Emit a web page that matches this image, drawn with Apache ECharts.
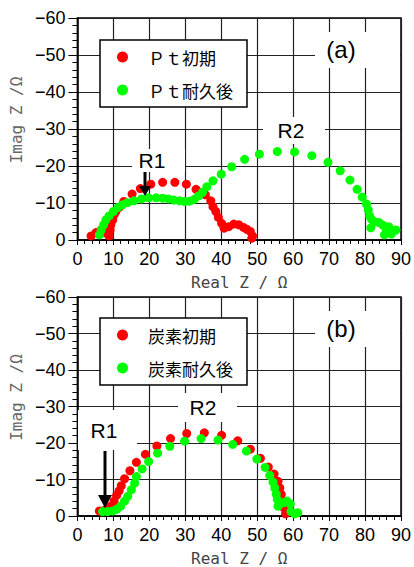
<!DOCTYPE html>
<html>
<head>
<meta charset="utf-8">
<script src="https://cdn.jsdelivr.net/npm/echarts@6/dist/echarts.min.js"></script>
<style>
html,body{margin:0;padding:0;background:#fff;}
#chart{width:414px;height:567px;}
</style>
</head>
<body>
<div id="chart"></div>
<script>
// ---- data (x = Real Z / Ω, y = Imag Z / Ω) ----
const ptInitial = [
  [3.8,-1.1],[5.2,-2.0],[6.6,-2.7],[7.9,-1.9],[8.8,-1.1],[9.1,-2.7],[9.3,-4.1],[9.8,-5.4],
  [10.2,-6.8],[10.7,-7.7],[11.6,-8.8],[12.9,-10.4],[15.2,-12.4],[17.5,-13.9],[20.4,-15.1],
  [23.7,-15.6],[27.1,-15.6],[30.3,-15.1],[33.0,-13.7],[35.6,-12.2],[37.1,-10.6],[37.7,-9.0],
  [38.5,-7.7],[39.2,-6.1],[40.1,-4.5],[40.8,-3.2],[42.1,-3.6],[43.5,-4.3],[44.9,-4.1],
  [46.2,-3.4],[47.1,-2.9],[48.1,-2.3],[48.7,-1.1],[48.5,-0.5]
];
const ptAged = [
  [6.1,-1.4],[6.6,-2.7],[7.3,-4.1],[7.9,-5.4],[8.8,-6.5],[10.0,-7.7],[11.3,-8.8],[12.5,-9.5],
  [13.9,-10.1],[15.7,-10.6],[17.8,-11.1],[19.8,-11.4],[21.9,-11.4],[23.7,-11.3],[25.3,-11.1],
  [26.8,-10.8],[28.4,-10.6],[29.8,-10.4],[31.2,-10.5],[32.5,-11.0],[33.7,-11.9],[34.8,-12.9],
  [36.0,-14.4],[37.7,-16.0],[40.0,-17.8],[42.9,-19.8],[46.5,-21.8],[50.6,-23.2],[55.6,-23.9],
  [60.4,-23.8],[65.2,-22.8],[69.7,-21.0],[73.1,-18.7],[75.8,-16.2],[77.8,-13.7],[79.2,-11.6],
  [80.4,-9.7],[80.9,-8.1],[81.3,-6.5],[81.8,-5.6],[81.6,-3.3],[82.7,-4.9],[83.9,-4.7],
  [85.0,-4.0],[85.9,-2.7],[85.4,-1.4],[86.6,-3.6],[87.3,-1.6],[88.6,-2.7]
];
const carbonInitial = [
  [6.1,-1.4],[7.3,-1.5],[8.4,-1.8],[9.3,-2.7],[10.2,-4.1],[10.9,-5.7],[11.6,-6.9],[12.2,-8.3],
  [13.1,-10.2],[14.6,-12.4],[16.4,-14.7],[18.9,-16.9],[22.1,-19.2],[25.9,-21.2],[30.4,-22.6],
  [35.3,-22.8],[40.1,-22.1],[44.6,-20.6],[48.1,-18.3],[50.9,-15.8],[53.1,-13.4],[54.7,-11.5],
  [55.8,-9.5],[56.3,-7.7],[56.7,-5.9],[57.2,-4.1],[57.5,-2.2],[57.9,-0.6],[58.5,-1.2]
];
const carbonAged = [
  [7.0,-1.2],[8.4,-1.2],[9.8,-1.4],[10.9,-1.8],[12.0,-2.7],[13.1,-4.1],[14.0,-5.4],[15.0,-7.2],
  [15.9,-9.0],[16.4,-10.8],[18.0,-12.9],[19.8,-14.9],[22.3,-17.2],[25.7,-19.1],[29.8,-20.5],
  [34.4,-21.2],[39.1,-20.8],[43.2,-19.6],[47.0,-17.8],[49.9,-15.6],[52.2,-13.3],[53.5,-11.1],
  [54.4,-9.3],[54.9,-7.7],[55.3,-6.0],[55.6,-4.5],[55.8,-2.7],[57.2,-3.6],[58.3,-4.1],
  [59.2,-3.3],[59.4,-1.2],[60.4,-0.6],[61.3,-0.9]
];
const legendTop = ['Ｐｔ初期','Ｐｔ耐久後'];
const legendBottom = ['炭素初期','炭素耐久後'];
const panelLabels = ['(a)','(b)'];
const xRange = [0, 90, 10];
const yRange = [-60, 0, 10];
const xName = 'Real Z / Ω';
const yName = 'Imag Z /Ω';

const RED = '#ff0000', GREEN = '#00ff00';
const numFont = 'Liberation Sans, Arial, sans-serif';
const cjkFont = 'Noto Sans CJK JP';
const monoFont = 'DejaVu Sans Mono';

function xAxisCfg(i){
  return {
    type:'value', gridIndex:i, min:xRange[0], max:xRange[1], interval:xRange[2],
    name:xName, nameLocation:'middle', nameGap:34,
    nameTextStyle:{fontFamily:monoFont, fontSize:16, color:'#444'},
    axisLine:{show:true, onZero:false, lineStyle:{color:'#000', width:1.5}},
    axisTick:{show:true, inside:false, length:5, lineStyle:{color:'#000', width:1}},
    minorTick:{show:true, splitNumber:5, length:4, lineStyle:{color:'#000', width:1}},
    axisLabel:{fontFamily:numFont, fontSize:18, color:'#000', margin:10},
    splitLine:{show:true, lineStyle:{color:'#222', width:1.2}}
  };
}
function yAxisCfg(i){
  return {
    type:'value', gridIndex:i, min:yRange[0], max:yRange[1], interval:yRange[2], inverse:true,
    name:yName, nameLocation:'middle', nameGap:43, nameRotate:90,
    nameTextStyle:{fontFamily:monoFont, fontSize:16, color:'#666', padding:[0,0,0,18]},
    axisLine:{show:true, onZero:false, lineStyle:{color:'#000', width:1.5}},
    axisTick:{show:true, inside:false, length:9, lineStyle:{color:'#000', width:1}},
    minorTick:{show:true, splitNumber:5, length:5, lineStyle:{color:'#000', width:1}},
    axisLabel:{fontFamily:numFont, fontSize:18, color:'#000', margin:12,
      formatter: v => v < 0 ? '\u2212' + (-v) : String(v)},
    splitLine:{show:true, lineStyle:{color:'#222', width:1.2}}
  };
}
function legendCfg(names, top){
  return {
    data:names, orient:'vertical', left:100, top:top, selectedMode:false,
    backgroundColor:'#fff', borderColor:'#000', borderWidth:1.5,
    padding:[7,14,7,17], itemGap:13, itemWidth:11, itemHeight:11, icon:'circle',
    textStyle:{fontFamily:cjkFont, fontSize:17, color:'#000', lineHeight:20, padding:[0,0,0,15]}
  };
}
function scatter(name, data, color, i){
  return {type:'scatter', name:name, data:data, xAxisIndex:i, yAxisIndex:i,
    symbol:'circle', symbolSize:9, itemStyle:{color:color, opacity:1}, emphasis:{disabled:true}};
}
function box(x,y,w,h){ return {type:'rect', shape:{x:x,y:y,width:w,height:h}, style:{fill:'#fff'}, z:5}; }
function label(t,x,y,size){ return {type:'text', x:x, y:y, style:{text:t, fontFamily:numFont, fontSize:size, fill:'#000', align:'center', verticalAlign:'middle'}, z:6}; }
function arrow(x,y0,y1,hw,hh){
  return [
    {type:'rect', shape:{x:x-1.5, y:y0, width:3, height:y1-y0-hh+1}, style:{fill:'#000'}, z:7},
    {type:'polygon', shape:{points:[[x-hw,y1-hh],[x+hw,y1-hh],[x,y1]]}, style:{fill:'#000'}, z:7}
  ];
}

const graphics = [].concat(
  // panel (a)
  [box(315,32,85,36), label(panelLabels[0],341,49,24)],
  [box(263,117,62,27), label('R2',291,130,21)],
  [box(132,149,53,23), label('R1',152,160,21)],
  arrow(145,172,196,6,10),
  // panel (b)
  [box(315,311,85,36), label(panelLabels[1],341,328,24)],
  [box(178,393,59,29), label('R2',203,407,21)],
  [box(78,410,59,40), label('R1',104,430,21)],
  arrow(105,451,508,7,13)
);

const chart = echarts.init(document.getElementById('chart'), null, {renderer:'svg'});
chart.setOption({
  animation:false,
  backgroundColor:'#fff',
  grid:[
    {left:76, right:9, top:18, height:222, show:true, borderColor:'#000', borderWidth:1.5, backgroundColor:'transparent'},
    {left:76, right:9, top:297, height:221, show:true, borderColor:'#000', borderWidth:1.5, backgroundColor:'transparent'}
  ],
  xAxis:[xAxisCfg(0), xAxisCfg(1)],
  yAxis:[yAxisCfg(0), yAxisCfg(1)],
  legend:[legendCfg(legendTop, 40), legendCfg(legendBottom, 318)],
  series:[
    scatter(legendTop[0], ptInitial, RED, 0),
    scatter(legendTop[1], ptAged, GREEN, 0),
    scatter(legendBottom[0], carbonInitial, RED, 1),
    scatter(legendBottom[1], carbonAged, GREEN, 1)
  ],
  graphic:graphics
});
</script>
</body>
</html>
